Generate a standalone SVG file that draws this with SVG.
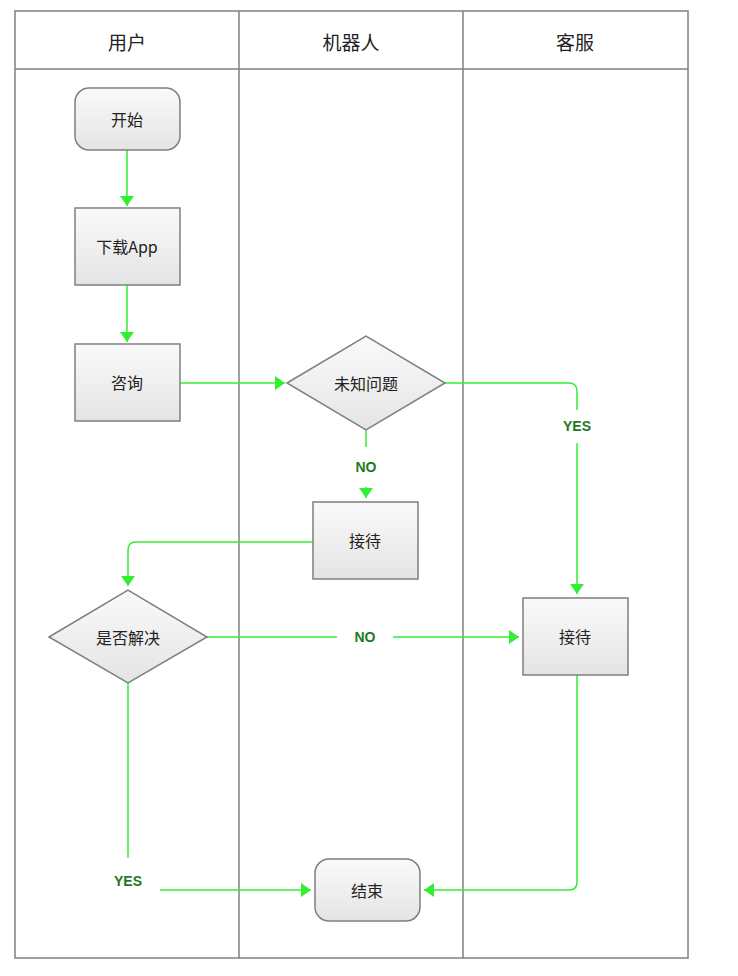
<svg xmlns="http://www.w3.org/2000/svg" width="738" height="976" viewBox="0 0 738 976">
<defs>
<linearGradient id="g" x1="0" y1="0" x2="0" y2="1"><stop offset="0" stop-color="#fafafa"/><stop offset="1" stop-color="#e4e4e4"/></linearGradient>
<marker id="a" viewBox="0 0 10 14" refX="10" refY="7" markerWidth="10" markerHeight="14" markerUnits="userSpaceOnUse" orient="auto"><path d="M0 0L10 7L0 14Z" fill="#33ee33"/></marker>
<style>
.n{fill:url(#g);stroke:#7f7f7f;stroke-width:1.5}
.t{font-family:"Noto Sans CJK SC","Liberation Sans",sans-serif;font-size:16px;fill:#222;text-anchor:middle;dominant-baseline:central}
.h{font-size:19px}
.c{fill:none;stroke:#33ee33;stroke-width:1.5}
.l{font-family:"Liberation Sans",sans-serif;font-size:14px;font-weight:bold;fill:#1e7a1e;text-anchor:middle;dominant-baseline:central}
.ln{fill:none;stroke:#808080;stroke-width:1.5}
</style>
</defs>
<rect width="738" height="976" fill="#fff"/>
<g id="lanes">
<rect class="ln" x="15" y="11" width="673" height="947"/>
<path class="ln" d="M15 69H688M239 11V958M463 11V958"/>
<text class="t h" x="127" y="41">用户</text>
<text class="t h" x="351" y="41">机器人</text>
<text class="t h" x="575" y="41">客服</text>
</g>
<g id="connectors">
<path class="c" d="M127 150V206" marker-end="url(#a)"/>
<path class="c" d="M127 285V342" marker-end="url(#a)"/>
<path class="c" d="M180 383H285" marker-end="url(#a)"/>
<path class="c" d="M445 383H569Q577 383 577 391V410"/>
<path class="c" d="M577 443V594" marker-end="url(#a)"/>
<text class="l" x="577" y="426">YES</text>
<path class="c" d="M366 430V447"/>
<path class="c" d="M366 487V498" marker-end="url(#a)"/>
<text class="l" x="366" y="467">NO</text>
<path class="c" d="M313 542H136Q128 542 128 550V586" marker-end="url(#a)"/>
<path class="c" d="M207 637H337"/>
<path class="c" d="M393 637H519" marker-end="url(#a)"/>
<text class="l" x="365" y="637">NO</text>
<path class="c" d="M128 683V858"/>
<path class="c" d="M160 890H311" marker-end="url(#a)"/>
<text class="l" x="128" y="881">YES</text>
<path class="c" d="M577 675V882Q577 890 569 890H424" marker-end="url(#a)"/>
</g>
<g id="start"><rect class="n" x="75" y="88" width="105" height="62" rx="14"/><text class="t" x="127" y="119">开始</text></g>
<g id="download"><rect class="n" x="75" y="208" width="105" height="77"/><text class="t" x="127" y="246">下载App</text></g>
<g id="consult"><rect class="n" x="75" y="344" width="105" height="77"/><text class="t" x="127" y="382">咨询</text></g>
<g id="unknown"><path class="n" d="M287 383L366 336L445 383L366 430Z"/><text class="t" x="366" y="383">未知问题</text></g>
<g id="robot"><rect class="n" x="313" y="502" width="105" height="77"/><text class="t" x="365" y="540">接待</text></g>
<g id="solved"><path class="n" d="M49 637L128 590L207 637L128 683Z"/><text class="t" x="128" y="637">是否解决</text></g>
<g id="agent"><rect class="n" x="523" y="598" width="105" height="77"/><text class="t" x="575" y="636">接待</text></g>
<g id="end"><rect class="n" x="315" y="859" width="105" height="62" rx="14"/><text class="t" x="367" y="890">结束</text></g>
</svg>
